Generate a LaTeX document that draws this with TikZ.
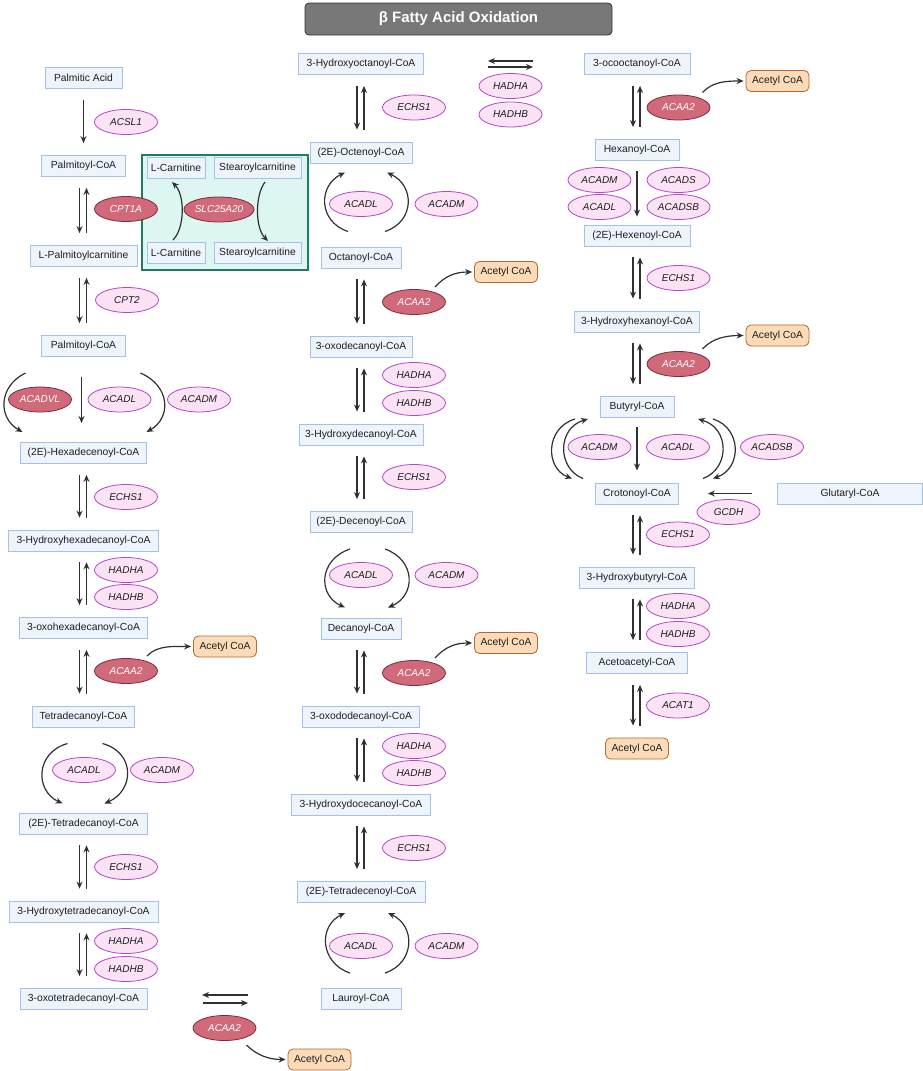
\documentclass[tikz,border=0pt]{standalone}
\usepackage{fontspec}
\setmainfont{Liberation Sans}
\usetikzlibrary{shapes.geometric,arrows.meta}
\definecolor{bxf}{HTML}{EEF4FC}
\definecolor{bxd}{HTML}{A4C2E8}
\definecolor{enf}{HTML}{FBE2F5}
\definecolor{enzd}{HTML}{B448C4}
\definecolor{dkf}{HTML}{D06A7B}
\definecolor{dkd}{HTML}{7E2A38}
\definecolor{acf}{HTML}{FCDCB8}
\definecolor{acd}{HTML}{B8672E}
\definecolor{tlf}{HTML}{DDF6F1}
\definecolor{tld}{HTML}{1F7A68}
\definecolor{arc}{HTML}{303030}
\definecolor{txt}{HTML}{1E1E1E}
\newcommand\mainsz{\fontsize{10.3}{12}\selectfont}
\newcommand\enzsz{\fontsize{10}{12}\selectfont}
\newcommand\twoway[2]{%
  \draw[arr] ([shift={(-4,11)}]#1.south) -- ([shift={(-4,-12)}]#2.north);
  \draw[arr] ([shift={(3,-12)}]#2.north) -- ([shift={(3,11)}]#1.south);}
\newcommand\toacetyl[2]{%
  \draw[arr] ([shift={(21,-15)}]#1.center) .. controls +(10,-11) and +(-17,0) .. ([xshift=-2pt]#2.west);}
\begin{document}
\begin{tikzpicture}[x=1pt,y=-1pt,
  box/.style={draw=bxd, fill=bxf, line width=0.8pt, minimum height=21pt, inner xsep=2pt, inner ysep=0pt, font=\mainsz, text=txt},
  enz/.style={ellipse, draw=enzd, fill=enf, line width=0.8pt, minimum width=63pt, minimum height=25pt, inner sep=0pt, font=\enzsz\itshape, text=txt},
  dk/.style={enz, draw=dkd, fill=dkf, text=white},
  acet/.style={draw=acd, fill=acf, line width=0.8pt, rounded corners=5pt, minimum width=63pt, minimum height=21pt, inner sep=0pt, font=\mainsz, text=txt},
  titlebox/.style={draw=black!80, fill=black!53, line width=0.8pt, rounded corners=4pt, minimum width=307pt, minimum height=32pt, font=\fontsize{15}{18}\selectfont\bfseries, text=white},
  tealbox/.style={draw=tld, fill=tlf, line width=1.4pt, minimum width=166pt, minimum height=115pt, inner sep=0pt},
  arr/.style={draw=arc, line width=1.2pt, -{Stealth[length=7pt,width=6pt]}}]
\useasboundingbox (0,0) rectangle (923,1071);

\node[titlebox] (title) at (458.5,19) {β Fatty Acid Oxidation};

% transport box (drawn first, under the CPT1A ellipse)
\node[tealbox] (tb) at (225,212.5) {};

% ---------------- left column ----------------
\node[box, minimum width=77pt]  (pa)  at (83.5,77.5) {Palmitic Acid};
\node[box, minimum width=84pt]  (pc1) at (83.5,166) {Palmitoyl-CoA};
\node[box, minimum width=107pt] (lpc) at (83.5,256) {L-Palmitoylcarnitine};
\node[box, minimum width=84pt]  (pc2) at (83.5,346) {Palmitoyl-CoA};
\node[box, minimum width=126pt] (hx)  at (83.5,453) {(2E)-Hexadecenoyl-CoA};
\node[box, minimum width=150pt] (hhx) at (83.5,540.5) {3-Hydroxyhexadecanoyl-CoA};
\node[box, minimum width=128pt] (ohx) at (83.5,628) {3-oxohexadecanoyl-CoA};
\node[box, minimum width=102pt] (td)  at (83.5,716.5) {Tetradecanoyl-CoA};
\node[box, minimum width=128pt] (etd) at (83.5,823.5) {(2E)-Tetradecanoyl-CoA};
\node[box, minimum width=149pt] (htd) at (83.5,911.5) {3-Hydroxytetradecanoyl-CoA};
\node[box, minimum width=127pt] (otd) at (83.5,999) {3-oxotetradecanoyl-CoA};

\node[enz] (acsl1) at (126,122) {ACSL1};
\node[dk]  (cpt1a) at (126,209) {CPT1A};
\node[enz] (cpt2)  at (127,300) {CPT2};
\node[dk]  (acadvl) at (40,399.5) {ACADVL};
\node[enz] (acadlA) at (119.5,399.5) {ACADL};
\node[enz] (acadmA) at (199,399.5) {ACADM};
\node[enz] (echsA) at (126,497) {ECHS1};
\node[enz] (hadhaA) at (126,570) {HADHA};
\node[enz] (hadhbA) at (126,597) {HADHB};
\node[dk]  (acaaA) at (126,671) {ACAA2};
\node[acet] (acA) at (225,646.5) {Acetyl CoA};
\node[enz] (acadlB) at (84,770) {ACADL};
\node[enz] (acadmB) at (162,770) {ACADM};
\node[enz] (echsB) at (126,867) {ECHS1};
\node[enz] (hadhaB) at (126,941) {HADHA};
\node[enz] (hadhbB) at (126,969) {HADHB};
\node[dk]  (acaaB) at (224.5,1028) {ACAA2};
\node[acet] (acB) at (319.5,1059.5) {Acetyl CoA};

\draw[arr] ([shift={(0,12)}]pa.south) -- ([shift={(0,-12)}]pc1.north);
\twoway{pc1}{lpc}
\twoway{lpc}{pc2}
\draw[arr] ([shift={(-58,27)}]pc2.center) .. controls +(-27,13) and +(-25,-14) .. ([shift={(-61,-21)}]hx.center);
\draw[arr] ([shift={(-2,31)}]pc2.center) -- ([shift={(-2,-30)}]hx.center);
\draw[arr] ([shift={(57,27)}]pc2.center) .. controls +(30,13) and +(25,-14) .. ([shift={(63,-21)}]hx.center);
\twoway{hx}{hhx}
\twoway{hhx}{ohx}
\twoway{ohx}{td}
\toacetyl{acaaA}{acA}
\draw[arr] ([shift={(-16,27)}]td.center) .. controls +(-32,9) and +(-28,-13) .. ([shift={(-21,-20)}]etd.center);
\draw[arr] ([shift={(19,27)}]td.center) .. controls +(33,9) and +(30,-13) .. ([shift={(21,-20)}]etd.center);
\twoway{etd}{htd}
\twoway{htd}{otd}

% transport box contents
\node[box, minimum width=58pt] (lc1) at (176,168) {L-Carnitine};
\node[box, minimum width=87pt] (st1) at (257.5,168) {Stearoylcarnitine};
\node[box, minimum width=58pt] (lc2) at (176,252.5) {L-Carnitine};
\node[box, minimum width=87pt] (st2) at (257.5,252.5) {Stearoylcarnitine};
\node[dk, minimum width=70pt] (slc) at (219,209.5) {SLC25A20};
\draw[arr] ([shift={(-3,-12.5)}]lc2.center) .. controls +(12,-12) and +(13,13) .. ([shift={(-4,14)}]lc1.center);
\draw[arr] ([shift={(7.5,14)}]st1.center) .. controls +(-10,13) and +(-13,-13) .. ([shift={(10.5,-11.5)}]st2.center);

% bottom horizontal
\coordinate (bl) at (202,999);
\coordinate (br) at (248,999);
\draw[arr] ([shift={(0,-4)}]br) -- ([shift={(0,-4)}]bl);
\draw[arr] ([shift={(1,4)}]bl) -- ([shift={(0,4)}]br);
\draw[arr] ([shift={(22,17)}]acaaB.center) .. controls +(10,10) and +(-17,0) .. ([xshift=-2pt]acB.west);

% ---------------- middle column ----------------
\node[box, minimum width=125pt] (h8)  at (361,64) {3-Hydroxyoctanoyl-CoA};
\node[box, minimum width=102pt] (e8)  at (361,152.5) {(2E)-Octenoyl-CoA};
\node[box, minimum width=80pt]  (oc)  at (361,257.5) {Octanoyl-CoA};
\node[box, minimum width=102pt] (o10) at (361,346.5) {3-oxodecanoyl-CoA};
\node[box, minimum width=124pt] (h10) at (361,434.5) {3-Hydroxydecanoyl-CoA};
\node[box, minimum width=102pt] (e10) at (361,522) {(2E)-Decenoyl-CoA};
\node[box, minimum width=80pt]  (d10) at (361,628.5) {Decanoyl-CoA};
\node[box, minimum width=117pt] (o12) at (361,716.5) {3-oxododecanoyl-CoA};
\node[box, minimum width=139pt] (h12) at (361,804.5) {3-Hydroxydocecanoyl-CoA};
\node[box, minimum width=128pt] (e14) at (361,892) {(2E)-Tetradecenoyl-CoA};
\node[box, minimum width=80pt]  (la)  at (361,999) {Lauroyl-CoA};

\node[enz] (echsC) at (414,107.5) {ECHS1};
\node[enz] (acadlC) at (361,204) {ACADL};
\node[enz] (acadmC) at (446.5,204) {ACADM};
\node[dk]  (acaaC) at (414,302) {ACAA2};
\node[acet] (acC) at (506,272) {Acetyl CoA};
\node[enz] (hadhaC) at (414,375) {HADHA};
\node[enz] (hadhbC) at (414,403) {HADHB};
\node[enz] (echsD) at (414,477) {ECHS1};
\node[enz] (acadlD) at (361,575) {ACADL};
\node[enz] (acadmD) at (446.5,575) {ACADM};
\node[dk]  (acaaD) at (414,673) {ACAA2};
\node[acet] (acD) at (506,643) {Acetyl CoA};
\node[enz] (hadhaD) at (414,746) {HADHA};
\node[enz] (hadhbD) at (414,773) {HADHB};
\node[enz] (echsE) at (414,848) {ECHS1};
\node[enz] (acadlE) at (361,946) {ACADL};
\node[enz] (acadmE) at (446.5,946) {ACADM};
\node[enz] (hadhaT) at (510.5,86) {HADHA};
\node[enz] (hadhbT) at (510.5,114.5) {HADHB};

\twoway{h8}{e8}
\draw[arr] ([shift={(-13,-26)}]oc.center) .. controls +(-30,-10) and +(-27,13) .. ([shift={(-16,20)}]e8.center);
\draw[arr] ([shift={(24,-26)}]oc.center) .. controls +(30,-10) and +(28,13) .. ([shift={(26,20)}]e8.center);
\twoway{oc}{o10}
\toacetyl{acaaC}{acC}
\twoway{o10}{h10}
\twoway{h10}{e10}
\draw[arr] ([shift={(-11,27)}]e10.center) .. controls +(-32,11) and +(-27,-12) .. ([shift={(-16,-21)}]d10.center);
\draw[arr] ([shift={(24,27)}]e10.center) .. controls +(31,11) and +(28,-12) .. ([shift={(27,-21)}]d10.center);
\twoway{d10}{o12}
\toacetyl{acaaD}{acD}
\twoway{o12}{h12}
\twoway{h12}{e14}
\draw[arr] ([shift={(-11,-26)}]la.center) .. controls +(-30,-10) and +(-27,13) .. ([shift={(-16,21)}]e14.center);
\draw[arr] ([shift={(24,-26)}]la.center) .. controls +(30,-10) and +(28,13) .. ([shift={(27,21)}]e14.center);

% top horizontal
\coordinate (tl) at (488,64);
\coordinate (tr) at (533,64);
\draw[arr] ([shift={(0,-3)}]tr) -- ([shift={(0,-3)}]tl);
\draw[arr] ([shift={(0,3)}]tl) -- ([shift={(0,3)}]tr);

% ---------------- right column ----------------
\node[box, minimum width=106pt] (o8)   at (637,64) {3-ocooctanoyl-CoA};
\node[box, minimum width=84pt]  (hexa) at (637,150) {Hexanoyl-CoA};
\node[box, minimum width=106pt] (hexe) at (637,235.5) {(2E)-Hexenoyl-CoA};
\node[box, minimum width=125pt] (h6)   at (637,321.5) {3-Hydroxyhexanoyl-CoA};
\node[box, minimum width=74pt]  (bu)   at (637,407) {Butyryl-CoA};
\node[box, minimum width=83pt]  (cr)   at (637,493.5) {Crotonoyl-CoA};
\node[box, minimum width=145pt] (gl)   at (850,493.5) {Glutaryl-CoA};
\node[box, minimum width=115pt] (h4)   at (637,577.5) {3-Hydroxybutyryl-CoA};
\node[box, minimum width=101pt] (aa)   at (637,663) {Acetoacetyl-CoA};
\node[acet] (acG) at (637,748.5) {Acetyl CoA};

\node[dk]  (acaaE) at (678.5,107.5) {ACAA2};
\node[acet] (acE) at (777.5,81) {Acetyl CoA};
\node[enz] (acadmF) at (599.5,180) {ACADM};
\node[enz] (acadsF) at (678.5,180) {ACADS};
\node[enz] (acadlF) at (599.5,207) {ACADL};
\node[enz] (acadsbF) at (678.5,207) {ACADSB};
\node[enz] (echsF) at (678.5,278) {ECHS1};
\node[dk]  (acaaF) at (678.5,364) {ACAA2};
\node[acet] (acF) at (777.5,335.5) {Acetyl CoA};
\node[enz] (acadmG) at (599.5,447) {ACADM};
\node[enz] (acadlG) at (678,447) {ACADL};
\node[enz] (acadsbG) at (772,447) {ACADSB};
\node[enz] (gcdh) at (728.5,512) {GCDH};
\node[enz] (echsG) at (678,534.5) {ECHS1};
\node[enz] (hadhaG) at (678,606) {HADHA};
\node[enz] (hadhbG) at (678,634) {HADHB};
\node[enz] (acat1) at (678,705.5) {ACAT1};

\twoway{o8}{hexa}
\draw[arr] ([shift={(24,-15)}]acaaE.center) .. controls +(10,-11) and +(-17,0) .. ([xshift=-2pt]acE.west);
\draw[arr] ([shift={(0,10)}]hexa.south) -- ([shift={(0,-8)}]hexe.north);
\twoway{hexe}{h6}
\twoway{h6}{bu}
\draw[arr] ([shift={(24,-15)}]acaaF.center) .. controls +(10,-11) and +(-17,0) .. ([xshift=-2pt]acF.west);
\draw[arr] ([shift={(-62,12)}]bu.center) .. controls +(-30,9) and +(-27,-10) .. ([shift={(-65,-15)}]cr.center);
\draw[arr] ([shift={(-54,-15)}]cr.center) .. controls +(-26,-10) and +(-31,9) .. ([shift={(-49,12)}]bu.center);
\draw[arr] ([shift={(0,20)}]bu.center) -- ([shift={(0,-23)}]cr.center);
\draw[arr] ([shift={(66,-15)}]cr.center) .. controls +(27,-10) and +(32,9) .. ([shift={(61,12)}]bu.center);
\draw[arr] ([shift={(76,12)}]bu.center) .. controls +(29,9) and +(29,-10) .. ([shift={(76,-15)}]cr.center);
\draw[arr] ([xshift=-25pt]gl.west) -- ([xshift=29pt]cr.east);
\twoway{cr}{h4}
\twoway{h4}{aa}
\twoway{aa}{acG}
\end{tikzpicture}
\end{document}
